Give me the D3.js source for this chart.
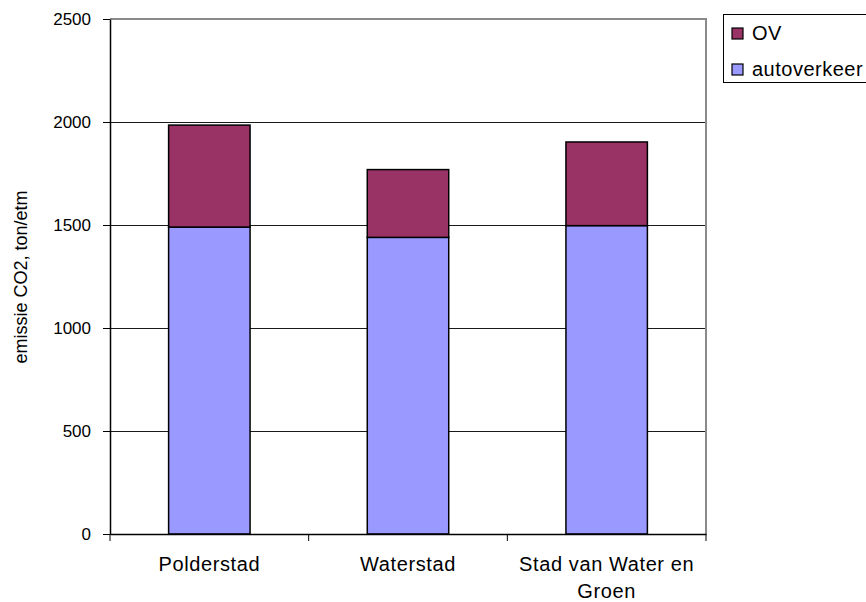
<!DOCTYPE html>
<html>
<head>
<meta charset="utf-8">
<script src="https://cdn.jsdelivr.net/npm/d3@7"></script>
<style>
  html, body { margin: 0; padding: 0; background: #fff; }
  svg { display: block; font-family: "Liberation Sans", Arial, sans-serif; }
</style>
</head>
<body>
<svg id="chart" width="866" height="602"></svg>
<script>
// Daily CO2 emission per urban plan, split by traffic type
const categories = ["Polderstad", "Waterstad", "Stad van Water en Groen"];
const categoryLines = [["Polderstad"], ["Waterstad"], ["Stad van Water en", "Groen"]];
const autoverkeer = [1490, 1440, 1497];
const ov = [495, 329, 406];
const yTicks = [0, 500, 1000, 1500, 2000, 2500];
const seriesNames = ["OV", "autoverkeer"];
const seriesColors = { "OV": "#993366", "autoverkeer": "#9999FF" };

const svg = d3.select("#chart");
const plot = { left: 110, right: 706, top: 19, bottom: 534 };

const x = d3.scaleBand()
  .domain(categories)
  .range([plot.left, plot.right])
  .paddingInner(0.59)
  .paddingOuter(0.295);

const y = d3.scaleLinear()
  .domain([0, 2500])
  .range([plot.bottom, plot.top]);

// gridlines
svg.append("g")
  .selectAll("line")
  .data(yTicks.filter(d => d > 0 && d < 2500))
  .join("line")
  .attr("x1", plot.left).attr("x2", plot.right)
  .attr("y1", d => y(d)).attr("y2", d => y(d))
  .attr("stroke", "#1a1a1a").attr("stroke-width", 1)
  .attr("shape-rendering", "crispEdges");

// plot border (top and right)
svg.append("path")
  .attr("d", `M${plot.left},${y(2500)}H${plot.right}V${plot.bottom}`)
  .attr("fill", "none").attr("stroke", "#8a8a8a").attr("stroke-width", 1.5)
  .attr("shape-rendering", "crispEdges");

// stacked data
const rows = categories.map((c, i) => ({ cat: c, autoverkeer: autoverkeer[i], OV: ov[i] }));
const stack = d3.stack().keys(["autoverkeer", "OV"])(rows);

svg.append("g")
  .selectAll("g")
  .data(stack)
  .join("g")
  .attr("fill", d => seriesColors[d.key])
  .selectAll("rect")
  .data(d => d)
  .join("rect")
  .attr("x", d => x(d.data.cat))
  .attr("width", x.bandwidth())
  .attr("y", d => y(d[1]))
  .attr("height", d => y(d[0]) - y(d[1]))
  .attr("stroke", "#000").attr("stroke-width", 1.5);

// y axis
const yAxis = d3.axisLeft(y).tickValues(yTicks).tickFormat(d3.format("d"))
  .tickSize(7).tickPadding(12).tickSizeOuter(0);
const yg = svg.append("g").attr("transform", `translate(${plot.left},0)`).call(yAxis);
yg.select(".domain").attr("stroke", "#000").attr("stroke-width", 1.5);
yg.selectAll(".tick line").attr("stroke", "#000");
yg.selectAll(".tick text")
  .attr("font-size", 17).attr("fill", "#000")
  .style("font-family", "'Liberation Sans', Arial, sans-serif");

// x axis
const xAxis = d3.axisBottom(x).tickSize(0).tickFormat(() => "");
const xg = svg.append("g").attr("transform", `translate(0,${plot.bottom})`).call(xAxis);
xg.select(".domain").attr("stroke", "#000").attr("stroke-width", 1.5);
// category separators
svg.append("g").selectAll("line")
  .data(d3.range(categories.length + 1))
  .join("line")
  .attr("x1", i => plot.left + i * (plot.right - plot.left) / categories.length)
  .attr("x2", i => plot.left + i * (plot.right - plot.left) / categories.length)
  .attr("y1", plot.bottom).attr("y2", plot.bottom + 7)
  .attr("stroke", "#000").attr("stroke-width", 1);

// category labels
const catText = svg.append("g").selectAll("text")
  .data(categories)
  .join("text")
  .attr("x", d => x(d) + x.bandwidth() / 2)
  .attr("y", 571)
  .attr("text-anchor", "middle")
  .attr("font-size", 20)
  .attr("letter-spacing", 0.6)
  .attr("fill", "#000");
catText.each(function(d, i) {
  d3.select(this).selectAll("tspan")
    .data(categoryLines[i])
    .join("tspan")
    .attr("x", x(d) + x.bandwidth() / 2)
    .attr("dy", (t, j) => j === 0 ? 0 : 27)
    .text(t => t);
});

// y axis title
svg.append("text")
  .attr("transform", "translate(27,277) rotate(-90)")
  .attr("text-anchor", "middle")
  .attr("font-size", 18)
  .attr("fill", "#000")
  .text("emissie CO2, ton/etm");

// legend
const legend = svg.append("g");
legend.append("rect")
  .attr("x", 723.5).attr("y", 14.5).attr("width", 150).attr("height", 68)
  .attr("fill", "#fff").attr("stroke", "#000").attr("stroke-width", 1);
const items = legend.selectAll("g.item")
  .data(seriesNames)
  .join("g")
  .attr("class", "item")
  .attr("transform", (d, i) => `translate(0,${i * 36})`);
items.append("rect")
  .attr("x", 732).attr("y", 28).attr("width", 11).attr("height", 11)
  .attr("fill", d => seriesColors[d]).attr("stroke", "#000").attr("stroke-width", 1.2);
items.append("text")
  .attr("x", 752).attr("y", 40)
  .attr("font-size", 20)
  .attr("letter-spacing", 0.5)
  .attr("fill", "#000")
  .text(d => d);
</script>
</body>
</html>
